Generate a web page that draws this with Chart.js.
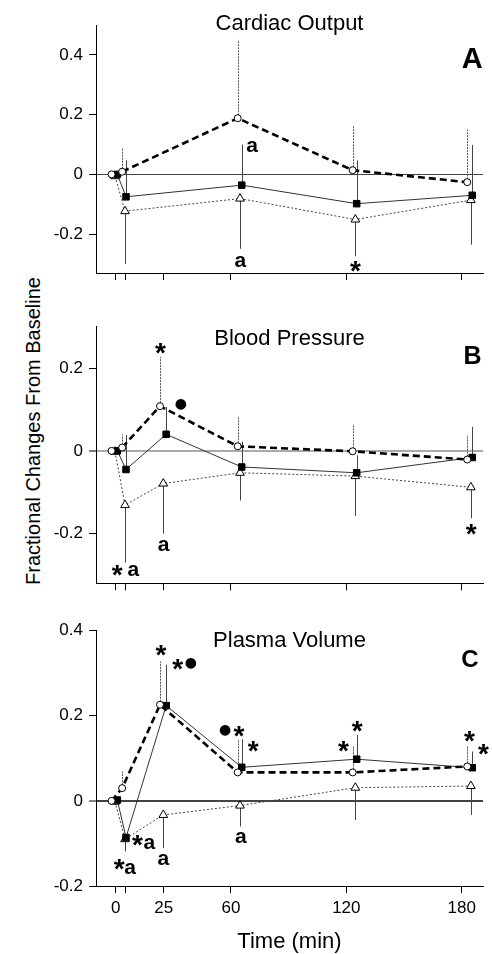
<!DOCTYPE html>
<html lang="en">
<head>
<meta charset="UTF-8">
<title>Fractional Changes From Baseline</title>
<script src="https://cdn.jsdelivr.net/npm/chart.js@4.4.0/dist/chart.umd.min.js"></script>
</head>
<body style="margin:0; background:#fff;">
<div style="position:relative; width:492px; height:954px; overflow:hidden; background:#fff;">
    <div style="position:absolute; left:32.5px; top:430.5px; transform:translate(-50%,-50%) rotate(-90deg); white-space:nowrap; font-family:'Liberation Sans', Arial, sans-serif; font-size:20px; color:#000;">Fractional Changes From Baseline</div>
    <canvas id="panelA" width="492" height="290" style="position:absolute; left:0; top:0;"></canvas>
    <canvas id="panelB" width="492" height="310" style="position:absolute; left:0; top:290px;"></canvas>
    <canvas id="panelC" width="492" height="354" style="position:absolute; left:0; top:600px;"></canvas>
</div>
<script>
    // sampling times (min) per group, slightly offset like in the figure
    var circleTimes = [-2.1, 3.4, 23.1, 63.5, 123.3, 182.9];
    var squareTimes = [0.9, 5.4, 26.3, 65.6, 125.4, 185.5];
    var triangleTimes = [-0.3, 4.9, 24.8, 64.7, 124.7, 184.8];
    var xTicks = [0, 5, 25, 60, 120, 180];
    var xLabels = ['0', '', '25', '60', '120', '180'];

    // A - cardiac output
    var cardiacCircle = [0, 0.009, null, 0.188, 0.014, -0.026];
    var cardiacSquare = [0, -0.075, null, -0.036, -0.098, -0.070];
    var cardiacTriangle = [-0.006, -0.123, null, -0.081, -0.151, -0.086];
    var cardiacCircleErr = [null, 0.09, null, 0.45, 0.164, 0.15];
    var cardiacSquareErr = [null, 0.047, null, 0.10, 0.047, 0.098];
    var cardiacTriangleErr = [null, -0.30, null, -0.249, -0.274, -0.235];
    var cardiacYTicks = [-0.2, 0, 0.2, 0.4];
    var cardiacMarks = [['a', 71.0, 0.095], ['a', 64.9, -0.291], ['*', 124.7, -0.308]];

    // B - blood pressure
    var pressureCircle = [0, 0.008, 0.108, 0.011, -0.001, -0.021];
    var pressureSquare = [0, -0.045, 0.040, -0.039, -0.053, -0.016];
    var pressureTriangle = [-0.002, -0.131, -0.079, -0.053, -0.061, -0.088];
    var pressureCircleErr = [null, 0.04, 0.227, 0.082, 0.062, 0.038];
    var pressureSquareErr = [null, 0.038, 0.106, 0.022, -0.011, 0.058];
    var pressureTriangleErr = [null, -0.27, -0.2, -0.12, -0.157, -0.163];
    var pressureYTicks = [-0.2, 0, 0.2];
    var pressureMarks = [['*', 23.3, 0.247], ['\u25CF', 34.0, 0.113], ['a', 25.0, -0.229],
        ['*', 0.8, -0.29], ['a', 9.2, -0.29], ['*', 185.0, -0.191]];

    // C - plasma volume
    var plasmaCircle = [0, 0.030, 0.226, 0.067, 0.067, 0.081];
    var plasmaSquare = [0.002, -0.086, 0.224, 0.079, 0.098, 0.078];
    var plasmaTriangle = [-0.002, -0.090, -0.033, -0.011, 0.031, 0.035];
    var plasmaCircleErr = [null, 0.069, 0.328, 0.145, 0.128, 0.128];
    var plasmaSquareErr = [null, null, 0.32, 0.145, 0.155, 0.116];
    var plasmaTriangleErr = [null, -0.119, -0.111, -0.06, -0.045, -0.033];
    var plasmaYTicks = [-0.2, 0, 0.2, 0.4];
    var plasmaMarks = [['*', 23.6, 0.354], ['*', 32.3, 0.321], ['\u25CF', 39.1, 0.322],
        ['\u25CF', 57.0, 0.165], ['*', 64.2, 0.163], ['*', 71.6, 0.128],
        ['*', 118.5, 0.128], ['*', 125.7, 0.175], ['*', 184.0, 0.151], ['*', 191.3, 0.12],
        ['*', 11.4, -0.094], ['a', 17.5, -0.101], ['*', 1.9, -0.149], ['a', 7.5, -0.158],
        ['a', 24.8, -0.137], ['a', 65.2, -0.086]];

    var FONT = "'Liberation Sans', Arial, sans-serif";
    Chart.defaults.font.family = FONT;
    Chart.defaults.color = '#000';

    function points(times, vals, errs) {
        var out = [];
        for (var i = 0; i < times.length; i++) {
            if (vals[i] === null) continue;
            out.push({ x: times[i], y: vals[i], e: errs[i] });
        }
        return out;
    }

    // draws error bars, panel title, panel letter and significance marks
    var decor = {
        id: 'decor',
        beforeDatasetsDraw: function (chart) {
            var ctx = chart.ctx;
            var ys = chart.scales.y;
            chart.data.datasets.forEach(function (ds, i) {
                var meta = chart.getDatasetMeta(i);
                ctx.save();
                ctx.strokeStyle = ds.barColor;
                ctx.lineWidth = 1;
                ctx.setLineDash(ds.barDash);
                meta.data.forEach(function (pt, j) {
                    var e = ds.data[j].e;
                    if (e === null || e === undefined) return;
                    ctx.beginPath();
                    ctx.moveTo(Math.round(pt.x) + 0.5, pt.y);
                    ctx.lineTo(Math.round(pt.x) + 0.5, ys.getPixelForValue(e));
                    ctx.stroke();
                });
                ctx.restore();
            });
        },
        afterDraw: function (chart, args, opts) {
            var ctx = chart.ctx;
            var area = chart.chartArea;
            var xs = chart.scales.x, ys = chart.scales.y;
            ctx.save();
            ctx.fillStyle = '#000';
            ctx.textAlign = 'center';
            ctx.textBaseline = 'alphabetic';

            ctx.font = '22px ' + FONT;
            ctx.fillText(opts.title, (area.left + area.right) / 2, area.top + opts.titleDy + 0.716 * 22 / 2);

            ctx.font = 'bold ' + opts.letterSize + 'px ' + FONT;
            ctx.fillText(opts.letter, area.right + opts.letterDx, area.top + opts.letterDy + 0.716 * opts.letterSize / 2);

            opts.marks.forEach(function (m) {
                if (m[0] === '*') ctx.font = 'bold 28px ' + FONT;
                else if (m[0] === 'a') ctx.font = 'bold 21px ' + FONT;
                else ctx.font = '14px DejaVu Sans, sans-serif';
                var tm = ctx.measureText(m[0]);
                var cx = xs.getPixelForValue(m[1]);
                var cy = ys.getPixelForValue(m[2]);
                ctx.fillText(m[0], cx, cy + (tm.actualBoundingBoxAscent - tm.actualBoundingBoxDescent) / 2);
            });
            ctx.restore();
        }
    };

    function makePanel(id, p) {
        new Chart(document.getElementById(id).getContext('2d'), {
            type: 'scatter',
            data: {
                datasets: [
                    {
                        data: points(circleTimes, p.circle, p.circleErr),
                        showLine: true, borderColor: '#000', borderWidth: 2.6, borderDash: [7, 4],
                        pointStyle: 'circle', pointRadius: 3.5, pointBackgroundColor: '#fff',
                        pointBorderColor: '#000', pointBorderWidth: 1,
                        barColor: '#555', barDash: [2, 1]
                    },
                    {
                        data: points(squareTimes, p.square, p.squareErr),
                        showLine: true, borderColor: '#333', borderWidth: 1,
                        pointStyle: 'rect', pointRadius: 4.6, pointBackgroundColor: '#000',
                        pointBorderColor: '#000', pointBorderWidth: 1,
                        barColor: '#444', barDash: []
                    },
                    {
                        data: points(triangleTimes, p.triangle, p.triangleErr),
                        showLine: true, borderColor: '#444', borderWidth: 1, borderDash: [2, 2],
                        pointStyle: 'triangle', pointRadius: 5, pointBackgroundColor: '#fff',
                        pointBorderColor: '#000', pointBorderWidth: 1,
                        barColor: '#444', barDash: []
                    }
                ]
            },
            options: {
                responsive: false,
                animation: false,
                events: [],
                layout: { padding: { left: 0, right: 9, top: p.top, bottom: 0 } },
                scales: {
                    x: {
                        type: 'linear', min: -10.2, max: 191.1,
                        afterBuildTicks: function (axis) {
                            axis.ticks = xTicks.map(function (v) { return { value: v }; });
                        },
                        afterFit: function (axis) { axis.height = p.xHeight; },
                        ticks: {
                            autoSkip: false, maxRotation: 0, padding: 5,
                            font: { size: 17 },
                            callback: function (value, index) { return p.showX ? xLabels[index] : ''; }
                        },
                        grid: { drawOnChartArea: false, tickLength: 7, tickColor: '#000', tickWidth: 1 },
                        border: { display: true, color: '#000', width: 1 },
                        title: {
                            display: p.showX, text: 'Time (min)',
                            font: { size: 22, lineHeight: 1.1 }, padding: 0
                        }
                    },
                    y: {
                        type: 'linear', min: p.yMin, max: p.yMax,
                        afterBuildTicks: function (axis) {
                            axis.ticks = p.yTicks.map(function (v) { return { value: v }; });
                        },
                        afterFit: function (axis) { axis.width = 96; },
                        ticks: {
                            padding: 6, font: { size: 17 },
                            callback: function (value) { return value === 0 ? '0' : value.toFixed(1); }
                        },
                        grid: {
                            drawOnChartArea: true, tickLength: 7, tickColor: '#000', tickWidth: 1,
                            color: function (c) { return c.tick && c.tick.value === 0 ? p.zeroColor : 'rgba(0,0,0,0)'; },
                            lineWidth: function (c) { return c.tick && c.tick.value === 0 ? p.zeroWidth : 1; }
                        },
                        border: { display: true, color: '#000', width: 1 }
                    }
                },
                plugins: {
                    legend: { display: false },
                    tooltip: { enabled: false },
                    decor: {
                        title: p.title, titleDy: p.titleDy,
                        letter: p.letter, letterSize: p.letterSize, letterDx: p.letterDx, letterDy: p.letterDy,
                        marks: p.marks
                    }
                }
            },
            plugins: [decor]
        });
    }

    makePanel('panelA', {
        circle: cardiacCircle, square: cardiacSquare, triangle: cardiacTriangle,
        circleErr: cardiacCircleErr, squareErr: cardiacSquareErr, triangleErr: cardiacTriangleErr,
        yMin: -0.33, yMax: 0.5, yTicks: cardiacYTicks, marks: cardiacMarks,
        top: 25, xHeight: 17, showX: false, zeroColor: '#444', zeroWidth: 1,
        title: 'Cardiac Output', titleDy: -2.5,
        letter: 'A', letterSize: 29, letterDx: -10.8, letterDy: 32.5
    });

    makePanel('panelB', {
        circle: pressureCircle, square: pressureSquare, triangle: pressureTriangle,
        circleErr: pressureCircleErr, squareErr: pressureSquareErr, triangleErr: pressureTriangleErr,
        yMin: -0.32, yMax: 0.3, yTicks: pressureYTicks, marks: pressureMarks,
        top: 36.7, xHeight: 16.7, showX: false, zeroColor: '#aaa', zeroWidth: 2,
        title: 'Blood Pressure', titleDy: 10,
        letter: 'B', letterSize: 25, letterDx: -10.5, letterDy: 28.3
    });

    makePanel('panelC', {
        circle: plasmaCircle, square: plasmaSquare, triangle: plasmaTriangle,
        circleErr: plasmaCircleErr, squareErr: plasmaSquareErr, triangleErr: plasmaTriangleErr,
        yMin: -0.2, yMax: 0.4, yTicks: plasmaYTicks, marks: plasmaMarks,
        top: 30.7, xHeight: 68, showX: true, zeroColor: '#444', zeroWidth: 2,
        title: 'Plasma Volume', titleDy: 8.3,
        letter: 'C', letterSize: 24, letterDx: -13, letterDy: 27.6
    });
</script>
</body>
</html>
